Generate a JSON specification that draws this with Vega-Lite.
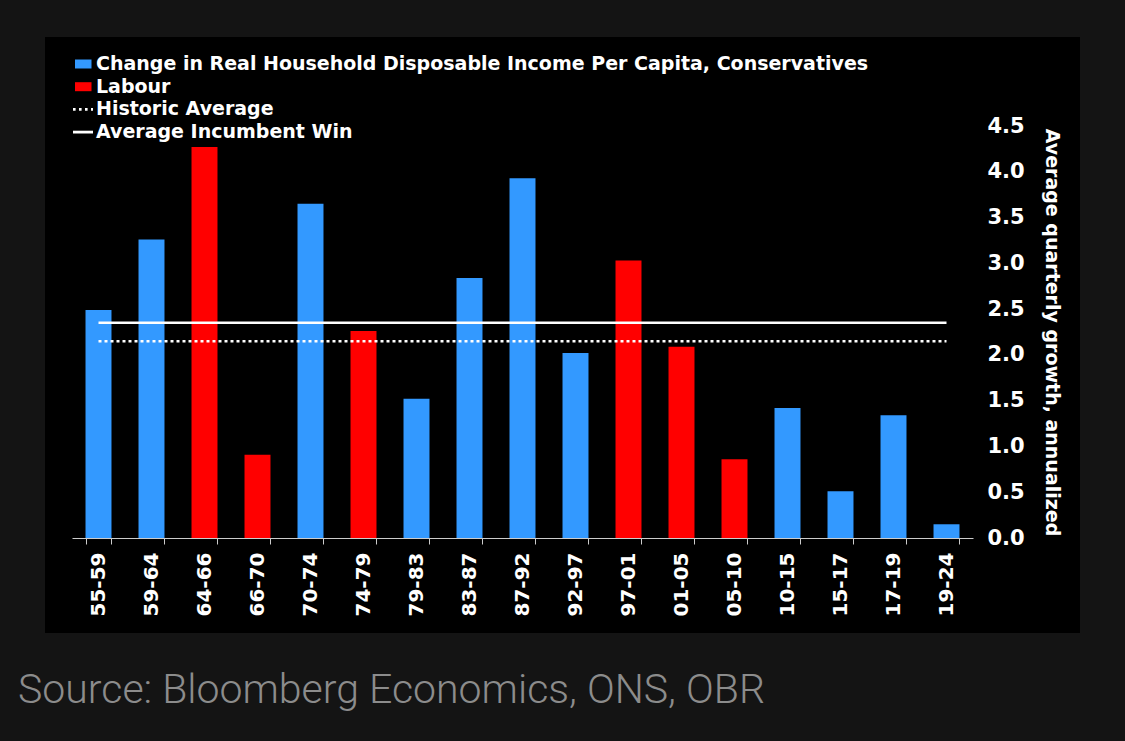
{
  "$schema": "https://vega.github.io/schema/vega-lite/v6.json",
  "autosize": "none",
  "padding": {"left": 45, "top": 37, "right": 45, "bottom": 108},
  "width": 1035,
  "height": 596,
  "background": "#141414",
  "view": {"fill": "#000000", "stroke": null},
  "title": {
    "text": "Source: Bloomberg Economics, ONS, OBR",
    "orient": "bottom",
    "anchor": "start",
    "dx": -17,
    "offset": 38,
    "font": "Roboto",
    "fontSize": 41,
    "fontWeight": 300,
    "color": "#8c8c8c"
  },
  "datasets": {
    "bars": [
      {"period": "55-59", "value": 2.49, "series": "Change in Real Household Disposable Income Per Capita, Conservatives"},
      {"period": "59-64", "value": 3.26, "series": "Change in Real Household Disposable Income Per Capita, Conservatives"},
      {"period": "64-66", "value": 4.27, "series": "Labour"},
      {"period": "66-70", "value": 0.91, "series": "Labour"},
      {"period": "70-74", "value": 3.65, "series": "Change in Real Household Disposable Income Per Capita, Conservatives"},
      {"period": "74-79", "value": 2.26, "series": "Labour"},
      {"period": "79-83", "value": 1.52, "series": "Change in Real Household Disposable Income Per Capita, Conservatives"},
      {"period": "83-87", "value": 2.84, "series": "Change in Real Household Disposable Income Per Capita, Conservatives"},
      {"period": "87-92", "value": 3.93, "series": "Change in Real Household Disposable Income Per Capita, Conservatives"},
      {"period": "92-97", "value": 2.02, "series": "Change in Real Household Disposable Income Per Capita, Conservatives"},
      {"period": "97-01", "value": 3.03, "series": "Labour"},
      {"period": "01-05", "value": 2.09, "series": "Labour"},
      {"period": "05-10", "value": 0.86, "series": "Labour"},
      {"period": "10-15", "value": 1.42, "series": "Change in Real Household Disposable Income Per Capita, Conservatives"},
      {"period": "15-17", "value": 0.51, "series": "Change in Real Household Disposable Income Per Capita, Conservatives"},
      {"period": "17-19", "value": 1.34, "series": "Change in Real Household Disposable Income Per Capita, Conservatives"},
      {"period": "19-24", "value": 0.15, "series": "Change in Real Household Disposable Income Per Capita, Conservatives"}
    ],
    "averages": [
      {"series": "Historic Average", "value": 2.15, "start": "55-59", "end": "19-24"},
      {"series": "Average Incumbent Win", "value": 2.35, "start": "55-59", "end": "19-24"}
    ],
    "keys": [
      {"series": "Change in Real Household Disposable Income Per Capita, Conservatives"},
      {"series": "Labour"},
      {"series": "Historic Average"},
      {"series": "Average Incumbent Win"}
    ]
  },
  "layer": [
    {
      "data": {"name": "bars"},
      "mark": {"type": "bar"},
      "encoding": {
        "x": {
          "field": "period",
          "type": "ordinal",
          "scale": {
            "domain": ["55-59", "59-64", "64-66", "66-70", "70-74", "74-79", "79-83", "83-87", "87-92", "92-97", "97-01", "01-05", "05-10", "10-15", "15-17", "17-19", "19-24"],
            "range": [27, 928],
            "paddingInner": 0.51,
            "paddingOuter": 0.255
          },
          "axis": {
            "title": null,
            "orient": "bottom",
            "offset": -95,
            "labelAngle": -90,
            "labelFontSize": 20,
            "labelPadding": 8,
            "tickSize": 6,
            "tickBand": "extent",
            "domainColor": "#cccccc",
            "tickColor": "#cccccc"
          }
        },
        "y": {
          "field": "value",
          "type": "quantitative",
          "scale": {"domain": [0, 4.5], "range": [501, 89], "nice": false},
          "axis": {
            "title": "Average quarterly growth, annualized",
            "orient": "right",
            "offset": -93,
            "values": [0, 0.5, 1, 1.5, 2, 2.5, 3, 3.5, 4, 4.5],
            "format": ".1f",
            "grid": false,
            "domain": false,
            "ticks": false,
            "tickSize": 0,
            "labelPadding": 0,
            "labelFontSize": 21,
            "titleFontSize": 19,
            "titlePadding": 17
          }
        },
        "color": {"field": "series", "type": "nominal"}
      }
    },
    {
      "data": {"name": "averages"},
      "transform": [{"filter": "datum.series === 'Historic Average'"}],
      "mark": {"type": "rule", "strokeWidth": 2.5, "strokeDash": [3, 3]},
      "encoding": {
        "x": {"field": "start", "type": "ordinal"},
        "x2": {"field": "end"},
        "y": {"field": "value", "type": "quantitative"},
        "color": {"field": "series", "type": "nominal"}
      }
    },
    {
      "data": {"name": "averages"},
      "transform": [{"filter": "datum.series === 'Average Incumbent Win'"}],
      "mark": {"type": "rule", "strokeWidth": 2.5},
      "encoding": {
        "x": {"field": "start", "type": "ordinal"},
        "x2": {"field": "end"},
        "y": {"field": "value", "type": "quantitative"},
        "color": {"field": "series", "type": "nominal"}
      }
    },
    {
      "data": {"name": "keys"},
      "mark": {"type": "point", "filled": true, "opacity": 0},
      "encoding": {
        "color": {
          "field": "series",
          "type": "nominal",
          "scale": {
            "domain": ["Change in Real Household Disposable Income Per Capita, Conservatives", "Labour", "Historic Average", "Average Incumbent Win"],
            "range": ["#3399ff", "#ff0000", "#ffffff", "#ffffff"]
          },
          "legend": {
            "title": null,
            "orient": "none",
            "legendX": 28,
            "legendY": 17,
            "symbolOpacity": 1,
            "encode": {"symbols": {"update": {"opacity": {"value": 1}}}}
          }
        },
        "shape": {
          "field": "series",
          "type": "nominal",
          "scale": {
            "domain": ["Change in Real Household Disposable Income Per Capita, Conservatives", "Labour", "Historic Average", "Average Incumbent Win"],
            "range": [
              "M-0.8,-0.45H0.85V0.45H-0.8Z",
              "M-0.8,-0.45H0.85V0.45H-0.8Z",
              "M-1,-0.14H-0.74V0.14H-1Z M-0.4,-0.14H-0.14V0.14H-0.4Z M0.2,-0.14H0.46V0.14H0.2Z M0.8,-0.14H1V0.14H0.8Z",
              "M-1,-0.14H1V0.14H-1Z"
            ]
          },
          "legend": {
            "title": null,
            "orient": "none",
            "legendX": 28,
            "legendY": 17,
            "symbolOpacity": 1,
            "encode": {"symbols": {"update": {"opacity": {"value": 1}}}}
          }
        }
      }
    }
  ],
  "config": {
    "font": "DejaVu Sans",
    "view": {"fill": "#000000", "stroke": null},
    "axis": {
      "labelColor": "#ffffff",
      "titleColor": "#ffffff",
      "labelFont": "DejaVu Sans",
      "titleFont": "DejaVu Sans",
      "labelFontWeight": "bold",
      "titleFontWeight": "bold"
    },
    "legend": {
      "labelColor": "#ffffff",
      "labelFont": "DejaVu Sans",
      "labelFontWeight": "bold",
      "labelFontSize": 19,
      "labelLimit": 1000,
      "labelOffset": 3,
      "symbolSize": 400,
      "symbolStrokeWidth": 0,
      "rowPadding": 2.7,
      "padding": 0
    }
  }
}
